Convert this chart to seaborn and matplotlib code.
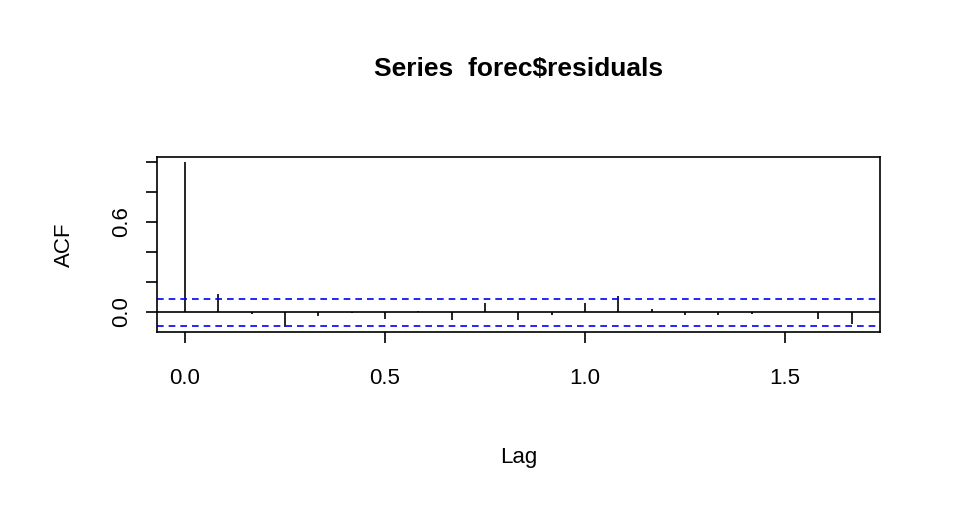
import numpy as np
import pandas as pd
import seaborn as sns
import matplotlib.pyplot as plt

sns.set_style("white")
plt.rcParams['font.family'] = ['Liberation Sans', 'DejaVu Sans']
plt.rcParams['text.color'] = 'black'
plt.rcParams['axes.labelcolor'] = 'black'
plt.rcParams['xtick.color'] = 'black'
plt.rcParams['ytick.color'] = 'black'

# ACF values (monthly lags, frequency 12)
lag_index = list(range(21))
acf_values = [1.0, 0.118, -0.016, -0.098, -0.027, -0.005, -0.044, 0.005, -0.053, 0.058,
              -0.053, -0.018, 0.062, 0.109, 0.02, -0.018, -0.022, -0.013, -0.003, -0.049, -0.08]
ci_bound = 0.09

df = pd.DataFrame({"lag": np.array(lag_index) / 12.0, "acf": acf_values})

fig = plt.figure(figsize=(9.6, 5.28), dpi=100)
ax = fig.add_axes([0.1635, 0.3712, 0.9167 - 0.1635, 0.7027 - 0.3712])

ax.vlines(df["lag"], 0, df["acf"], color="black", linewidth=1.2)
ax.axhline(0, color="black", linewidth=1.2)
ax.axhline(ci_bound, color="#0000ff", linestyle=(0, (4, 3)), linewidth=1.2)
ax.axhline(-ci_bound, color="#0000ff", linestyle=(0, (4, 3)), linewidth=1.2)

ax.set_xlim(-0.07, 1.7375)
ax.set_ylim(-0.133, 1.033)
ax.set_xticks([0.0, 0.5, 1.0, 1.5])
ax.set_xticklabels(["0.0", "0.5", "1.0", "1.5"])
ax.set_yticks([0.0, 0.2, 0.4, 0.6, 0.8, 1.0])
ax.set_yticklabels(["0.0", "", "", "0.6", "", ""], rotation=90, va="center")
ax.tick_params(axis="both", direction="out", length=8, width=1.2, labelsize=16,
               color="black", bottom=True, left=True)
ax.tick_params(axis="x", pad=18)
ax.tick_params(axis="y", pad=10)
for s in ax.spines.values():
    s.set_color("black")
    s.set_linewidth(1.2)

ax.set_xlabel("Lag", fontsize=16, labelpad=42)
ax.set_ylabel("ACF", fontsize=16, labelpad=26)
fig.text(0.54, 0.87, "Series  forec$residuals", ha="center", va="center",
         fontsize=19, fontweight="bold")

fig.savefig("out.png", dpi=100)
